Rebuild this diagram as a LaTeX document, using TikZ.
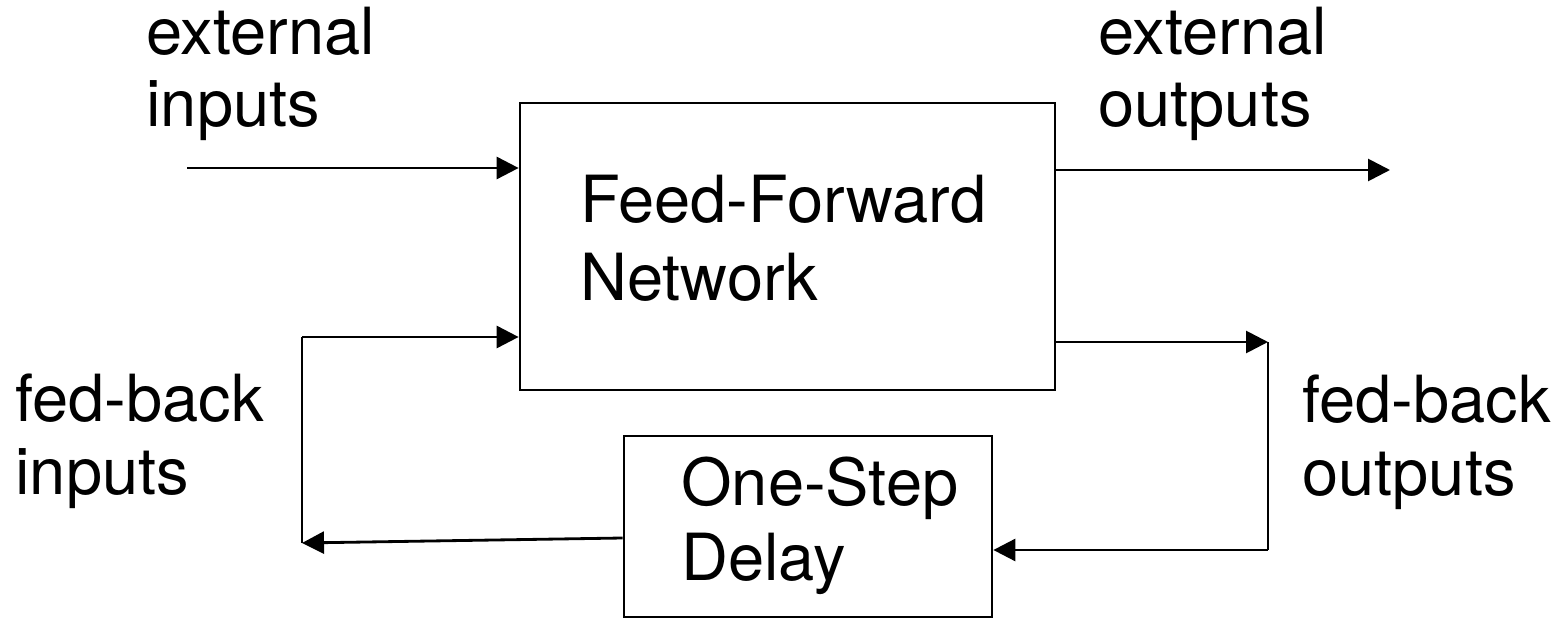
\documentclass[tikz,border=0pt]{standalone}
\usepackage{fontspec}
\setmainfont{TeX Gyre Heros}
\usetikzlibrary{arrows.meta}
\tikzset{
  blk/.style={draw, line width=1.6pt, inner sep=0pt},
  txt/.style={inner sep=0pt, align=left, anchor=base west},
  lbl/.style={txt, font=\fontsize{37}{41.5}\selectfont},
  conn/.style={line width=1.6pt},
  arr/.style={conn, -{Triangle[length=0.44cm,width=0.44cm]}}
}
\begin{document}
\begin{tikzpicture}[x=0.02cm,y=-0.02cm]
  \useasboundingbox (0,0) rectangle (1559,618);
  \draw
    (787.5,246.5) node[blk, minimum width=10.7cm, minimum height=5.74cm] (ffn) {}
    (808,526.5) node[blk, minimum width=7.36cm, minimum height=3.62cm] (delay) {};
  \node[txt, font=\fontsize{37}{44}\selectfont] (fftxt) at (580,300) {Feed-Forward\\Network};
  \node[txt, font=\fontsize{37}{42.5}\selectfont] (dtxt) at (681,580) {One-Step\\Delay};
  \node[lbl] (extin) at (146,127) {external\\inputs};
  \node[lbl] (extout) at (1098,127) {external\\outputs};
  \node[lbl] (fbin) at (15,494) {fed-back\\inputs};
  \node[lbl] (fbout) at (1302,495) {fed-back\\outputs};
  \coordinate (ein) at (187,168);
  \coordinate (eout) at (1390,170);
  \coordinate (fbo) at (1268,342);
  \coordinate (fbob) at (1268,550);
  \coordinate (fbi) at (302,543);
  \coordinate (fbit) at (302,337);
  \begin{scope}[arr]
    \draw (ein) to (ein -| ffn.west);
    \draw (ffn.east |- eout) to (eout);
    \draw (ffn.east |- fbo) to (fbo);
    \draw (fbob) to (fbob -| delay.east);
    \draw (delay.west |- 0,538) to (fbi);
    \draw (fbit) to (fbit -| ffn.west);
  \end{scope}
  \draw[conn] (fbo) -- (fbob);
  \draw[conn] (fbi) -- (fbit);
\end{tikzpicture}
\end{document}
